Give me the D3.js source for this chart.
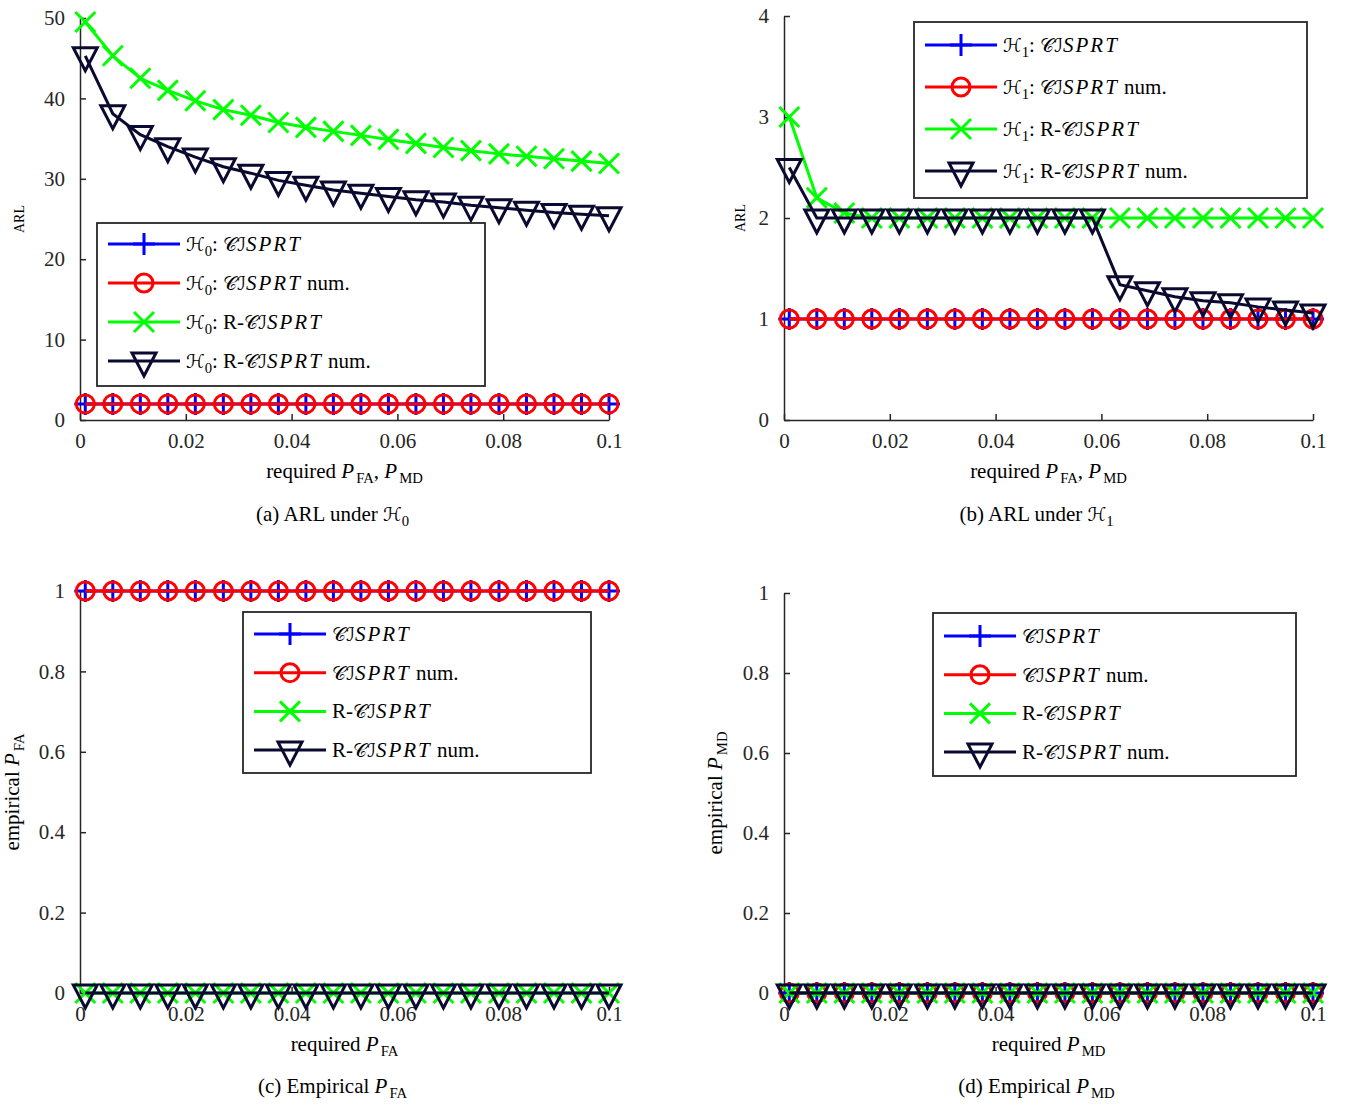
<!DOCTYPE html>
<html>
<head>
<meta charset="utf-8">
<script src="https://cdn.jsdelivr.net/npm/d3@7"></script>
<style>
  body { margin: 0; background: #fff; }
  svg { font-family: "Liberation Serif", "Times New Roman", serif; }
  .axis path, .axis line { stroke: #262626; stroke-width: 1.5; }
  .axis text { fill: #262626; font-size: 21px; font-family: "Liberation Serif", "Times New Roman", serif; }
</style>
</head>
<body>
<svg id="chart" width="1346" height="1106"></svg>
<script>
// required P_FA / P_MD (x values)
const requiredP = [0.001, 0.0062, 0.0114, 0.0166, 0.0218, 0.0271, 0.0323, 0.0375, 0.0427, 0.0479,
                   0.0531, 0.0583, 0.0635, 0.0687, 0.0739, 0.0792, 0.0844, 0.0896, 0.0948, 0.1];

// (a) ARL under H0
const h0Cisprt     = [2, 2, 2, 2, 2, 2, 2, 2, 2, 2, 2, 2, 2, 2, 2, 2, 2, 2, 2, 2];
const h0CisprtNum  = [2, 2, 2, 2, 2, 2, 2, 2, 2, 2, 2, 2, 2, 2, 2, 2, 2, 2, 2, 2];
const h0RCisprt    = [49.5, 45.3, 42.5, 41.0, 39.7, 38.6, 37.9, 37.0, 36.4, 35.9,
                      35.4, 34.9, 34.4, 33.9, 33.5, 33.1, 32.8, 32.5, 32.2, 31.9];
const h0RCisprtNum = [45.3, 38.1, 35.5, 34.0, 32.7, 31.5, 30.7, 29.8, 29.2, 28.6,
                      28.2, 27.8, 27.4, 27.1, 26.7, 26.4, 26.1, 25.8, 25.6, 25.4];

// (b) ARL under H1
const h1Cisprt     = [1, 1, 1, 1, 1, 1, 1, 1, 1, 1, 1, 1, 1, 1, 1, 1, 1, 1, 1, 1];
const h1CisprtNum  = [1, 1, 1, 1, 1, 1, 1, 1, 1, 1, 1, 1, 1, 1, 1, 1, 1, 1, 1, 1];
const h1RCisprt    = [3.0, 2.2, 2.05, 2, 2, 2, 2, 2, 2, 2, 2, 2, 2, 2, 2, 2, 2, 2, 2, 2];
const h1RCisprtNum = [2.5, 2, 2, 2, 2, 2, 2, 2, 2, 2, 2, 2,
                      1.34, 1.28, 1.22, 1.18, 1.16, 1.12, 1.09, 1.06];

// (c) empirical P_FA
const pfaCisprt     = [1, 1, 1, 1, 1, 1, 1, 1, 1, 1, 1, 1, 1, 1, 1, 1, 1, 1, 1, 1];
const pfaCisprtNum  = [1, 1, 1, 1, 1, 1, 1, 1, 1, 1, 1, 1, 1, 1, 1, 1, 1, 1, 1, 1];
const pfaRCisprt    = [0, 0, 0, 0, 0, 0, 0, 0, 0, 0, 0, 0, 0, 0, 0, 0, 0, 0, 0, 0];
const pfaRCisprtNum = [0, 0, 0, 0, 0, 0, 0, 0, 0, 0, 0, 0, 0, 0, 0, 0, 0, 0, 0, 0];

// (d) empirical P_MD
const pmdCisprt     = [0, 0, 0, 0, 0, 0, 0, 0, 0, 0, 0, 0, 0, 0, 0, 0, 0, 0, 0, 0];
const pmdCisprtNum  = [0, 0, 0, 0, 0, 0, 0, 0, 0, 0, 0, 0, 0, 0, 0, 0, 0, 0, 0, 0];
const pmdRCisprt    = [0, 0, 0, 0, 0, 0, 0, 0, 0, 0, 0, 0, 0, 0, 0, 0, 0, 0, 0, 0];
const pmdRCisprtNum = [0, 0, 0, 0, 0, 0, 0, 0, 0, 0, 0, 0, 0, 0, 0, 0, 0, 0, 0, 0];

const xTicks = [0, 0.02, 0.04, 0.06, 0.08, 0.1];

const styles = [
    {color: '#0000ff', marker: 'plus'},
    {color: '#ff0000', marker: 'circle'},
    {color: '#00ff00', marker: 'cross'},
    {color: '#0a0a30', marker: 'tri'},
];

const CAL = 'cal', IT = 'it', SUB = 'sub', N = 'n';

function legendNames(hyp) {
    const pre = hyp === null ? [] : [[CAL, 'ℋ'], [SUB, hyp], [N, ': ']];
    return [
        pre.concat([[CAL, '𝒞ℐ'], [IT, 'SPRT']]),
        pre.concat([[CAL, '𝒞ℐ'], [IT, 'SPRT'], [N, ' num.']]),
        pre.concat([[N, 'R-'], [CAL, '𝒞ℐ'], [IT, 'SPRT']]),
        pre.concat([[N, 'R-'], [CAL, '𝒞ℐ'], [IT, 'SPRT'], [N, ' num.']]),
    ];
}

const panels = [
    {
        left: 80, right: 609, top: 18, bottom: 420, yMax: 50, yTicks: [0, 10, 20, 30, 40, 50],
        series: [h0Cisprt, h0CisprtNum, h0RCisprt, h0RCisprtNum],
        names: legendNames('0'),
        legend: {x: 97, y: 223, w: 388, h: 163, row0: 21, step: 39},
        yLabel: {x: 24, parts: [[N, 'ARL']], small: true},
        xLabel: [[N, 'required '], [IT, 'P'], [SUB, 'FA'], [N, ', '], [IT, 'P'], [SUB, 'MD']],
        caption: [[N, '(a) ARL under '], [CAL, 'ℋ'], [SUB, '0']],
        capY: 521, xlY: 478
    },
    {
        left: 784, right: 1313, top: 16, bottom: 420, yMax: 4, yTicks: [0, 1, 2, 3, 4],
        series: [h1Cisprt, h1CisprtNum, h1RCisprt, h1RCisprtNum],
        names: legendNames('1'),
        legend: {x: 914, y: 22, w: 393, h: 176, row0: 23, step: 42},
        yLabel: {x: 745, parts: [[N, 'ARL']], small: true},
        xLabel: [[N, 'required '], [IT, 'P'], [SUB, 'FA'], [N, ', '], [IT, 'P'], [SUB, 'MD']],
        caption: [[N, '(b) ARL under '], [CAL, 'ℋ'], [SUB, '1']],
        capY: 521, xlY: 478
    },
    {
        left: 80, right: 609, top: 591, bottom: 993, yMax: 1, yTicks: [0, 0.2, 0.4, 0.6, 0.8, 1],
        series: [pfaCisprt, pfaCisprtNum, pfaRCisprt, pfaRCisprtNum],
        names: legendNames(null),
        legend: {x: 243, y: 612, w: 348, h: 161, row0: 22, step: 38.7},
        yLabel: {x: 19, parts: [[N, 'empirical '], [IT, 'P'], [SUB, 'FA']]},
        xLabel: [[N, 'required '], [IT, 'P'], [SUB, 'FA']],
        caption: [[N, '(c) Empirical '], [IT, 'P'], [SUB, 'FA']],
        capY: 1093, xlY: 1051
    },
    {
        left: 784, right: 1313, top: 593, bottom: 993, yMax: 1, yTicks: [0, 0.2, 0.4, 0.6, 0.8, 1],
        series: [pmdCisprt, pmdCisprtNum, pmdRCisprt, pmdRCisprtNum],
        names: legendNames(null),
        legend: {x: 933, y: 613, w: 363, h: 163, row0: 23, step: 38.7},
        yLabel: {x: 722, parts: [[N, 'empirical '], [IT, 'P'], [SUB, 'MD']]},
        xLabel: [[N, 'required '], [IT, 'P'], [SUB, 'MD']],
        caption: [[N, '(d) Empirical '], [IT, 'P'], [SUB, 'MD']],
        capY: 1093, xlY: 1051
    },
];

const svg = d3.select('#chart');

function richText(sel, parts, size) {
    let shifted = false;
    parts.forEach(([kind, str]) => {
        const t = sel.append('tspan').text(str);
        if (kind === CAL) {
            t.attr('font-family', '"DejaVu Serif", "DejaVu Sans", serif')
             .attr('font-size', size * 0.9);
        } else if (kind === IT) {
            t.attr('font-style', 'italic').attr('letter-spacing', 2);
        }
        if (kind === SUB) {
            t.attr('font-size', size * 0.7).attr('dy', size * 0.25);
            shifted = true;
        } else if (shifted) {
            t.attr('dy', -size * 0.25);
            shifted = false;
        }
    });
    return sel;
}

function drawMarker(g, type, color) {
    const sw = 3;
    if (type === 'plus') {
        g.append('path').attr('d', 'M-11,0H11M0,-11V11')
            .attr('stroke', color).attr('stroke-width', sw).attr('fill', 'none');
    } else if (type === 'circle') {
        g.append('circle').attr('r', 9)
            .attr('stroke', color).attr('stroke-width', sw).attr('fill', 'none');
    } else if (type === 'cross') {
        g.append('path').attr('d', 'M-10,-10L10,10M-10,10L10,-10')
            .attr('stroke', color).attr('stroke-width', sw).attr('fill', 'none');
    } else {
        g.append('path').attr('d', 'M-12,-8L12,-8L0,15Z')
            .attr('stroke', color).attr('stroke-width', sw).attr('fill', 'none')
            .attr('stroke-linejoin', 'miter');
    }
}

panels.forEach(p => {
    const x = d3.scaleLinear().domain([0, 0.1]).range([p.left, p.right]);
    const y = d3.scaleLinear().domain([0, p.yMax]).range([p.bottom, p.top]);

    const g = svg.append('g');

    g.append('g').attr('class', 'axis')
        .attr('transform', `translate(0,${p.bottom})`)
        .call(d3.axisBottom(x).tickValues(xTicks).tickFormat(d3.format('~g'))
            .tickSizeInner(-6).tickSizeOuter(0).tickPadding(13));

    g.append('g').attr('class', 'axis')
        .attr('transform', `translate(${p.left},0)`)
        .call(d3.axisLeft(y).tickValues(p.yTicks).tickFormat(d3.format('~g'))
            .tickSizeInner(-6).tickSizeOuter(0).tickPadding(15));

    g.selectAll('.axis .domain').attr('stroke-width', 1.8);

    // lines first, markers on top of their own line
    p.series.forEach((vals, i) => {
        const st = styles[i];
        const pts = vals.map((v, j) => [requiredP[j], v]);
        g.append('path')
            .datum(pts)
            .attr('fill', 'none')
            .attr('stroke', st.color)
            .attr('stroke-width', 3)
            .attr('d', d3.line().x(d => x(d[0])).y(d => y(d[1])));
        pts.forEach(d => {
            const m = g.append('g').attr('transform', `translate(${x(d[0])},${y(d[1])})`);
            drawMarker(m, st.marker, st.color);
        });
    });

    // legend
    const L = p.legend;
    const lg = g.append('g').attr('transform', `translate(${L.x},${L.y})`);
    lg.append('rect').attr('width', L.w).attr('height', L.h)
        .attr('fill', '#fff').attr('stroke', '#262626').attr('stroke-width', 1.8);
    p.names.forEach((parts, i) => {
        const ry = L.row0 + i * L.step;
        const st = styles[i];
        lg.append('line').attr('x1', 11).attr('x2', 83).attr('y1', ry).attr('y2', ry)
            .attr('stroke', st.color).attr('stroke-width', 3);
        drawMarker(lg.append('g').attr('transform', `translate(47,${ry})`), st.marker, st.color);
        richText(lg.append('text').attr('x', 89).attr('y', ry + 7).attr('font-size', 21)
            .attr('fill', '#000'), parts, 21);
    });

    // axis labels
    const cx = (p.left + p.right) / 2;
    const cy = (p.top + p.bottom) / 2;
    richText(g.append('text').attr('x', cx).attr('y', p.xlY).attr('text-anchor', 'middle')
        .attr('font-size', 21).attr('fill', '#000'), p.xLabel, 21);

    const ylSize = p.yLabel.small ? 14 : 21;
    richText(g.append('text')
        .attr('transform', `translate(${p.yLabel.x},${cy}) rotate(-90)`)
        .attr('text-anchor', 'middle').attr('font-size', ylSize).attr('fill', '#000'),
        p.yLabel.parts, ylSize);

    // caption
    richText(g.append('text').attr('x', cx - 12).attr('y', p.capY).attr('text-anchor', 'middle')
        .attr('font-size', 21).attr('fill', '#000'), p.caption, 21);
});
</script>
</body>
</html>
